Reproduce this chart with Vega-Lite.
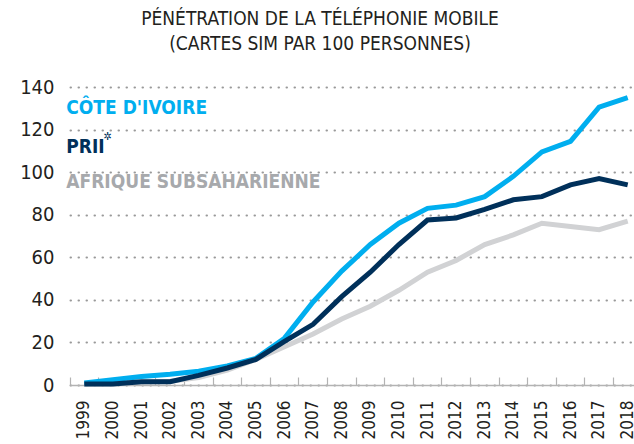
{
  "$schema": "https://vega.github.io/schema/vega-lite/v6.json",
  "width": 572,
  "height": 298,
  "autosize": {"type": "none"},
  "padding": {"left": 70, "top": 87, "right": 0, "bottom": 59},
  "background": "white",
  "title": {
    "text": ["PÉNÉTRATION DE LA TÉLÉPHONIE MOBILE", "(CARTES SIM PAR 100 PERSONNES)"],
    "font": "DejaVu Sans Condensed, Roboto, sans-serif",
    "fontSize": 19,
    "fontWeight": "normal",
    "color": "#231F20",
    "anchor": "middle",
    "frame": "group",
    "dx": -36,
    "offset": 23,
    "lineHeight": 25
  },
  "config": {
    "view": {"stroke": null},
    "font": "DejaVu Sans Condensed, Roboto, sans-serif"
  },
  "datasets": {
    "series": [
      {"year": "1999", "serie": "Afrique subsaharienne", "value": 0.3},
      {"year": "2000", "serie": "Afrique subsaharienne", "value": 0.5},
      {"year": "2001", "serie": "Afrique subsaharienne", "value": 1.3},
      {"year": "2002", "serie": "Afrique subsaharienne", "value": 1.8},
      {"year": "2003", "serie": "Afrique subsaharienne", "value": 3.5},
      {"year": "2004", "serie": "Afrique subsaharienne", "value": 7},
      {"year": "2005", "serie": "Afrique subsaharienne", "value": 12},
      {"year": "2006", "serie": "Afrique subsaharienne", "value": 18},
      {"year": "2007", "serie": "Afrique subsaharienne", "value": 24},
      {"year": "2008", "serie": "Afrique subsaharienne", "value": 31},
      {"year": "2009", "serie": "Afrique subsaharienne", "value": 37},
      {"year": "2010", "serie": "Afrique subsaharienne", "value": 44.5},
      {"year": "2011", "serie": "Afrique subsaharienne", "value": 53},
      {"year": "2012", "serie": "Afrique subsaharienne", "value": 58.5},
      {"year": "2013", "serie": "Afrique subsaharienne", "value": 66},
      {"year": "2014", "serie": "Afrique subsaharienne", "value": 70.5},
      {"year": "2015", "serie": "Afrique subsaharienne", "value": 76},
      {"year": "2016", "serie": "Afrique subsaharienne", "value": 74.5},
      {"year": "2017", "serie": "Afrique subsaharienne", "value": 73},
      {"year": "2018", "serie": "Afrique subsaharienne", "value": 77},
      {"year": "1999", "serie": "Côte d'Ivoire", "value": 1},
      {"year": "2000", "serie": "Côte d'Ivoire", "value": 2.5},
      {"year": "2001", "serie": "Côte d'Ivoire", "value": 4},
      {"year": "2002", "serie": "Côte d'Ivoire", "value": 5},
      {"year": "2003", "serie": "Côte d'Ivoire", "value": 6.5},
      {"year": "2004", "serie": "Côte d'Ivoire", "value": 9},
      {"year": "2005", "serie": "Côte d'Ivoire", "value": 12.5},
      {"year": "2006", "serie": "Côte d'Ivoire", "value": 22},
      {"year": "2007", "serie": "Côte d'Ivoire", "value": 39},
      {"year": "2008", "serie": "Côte d'Ivoire", "value": 53.5},
      {"year": "2009", "serie": "Côte d'Ivoire", "value": 66},
      {"year": "2010", "serie": "Côte d'Ivoire", "value": 76},
      {"year": "2011", "serie": "Côte d'Ivoire", "value": 83},
      {"year": "2012", "serie": "Côte d'Ivoire", "value": 84.5},
      {"year": "2013", "serie": "Côte d'Ivoire", "value": 88.5},
      {"year": "2014", "serie": "Côte d'Ivoire", "value": 98},
      {"year": "2015", "serie": "Côte d'Ivoire", "value": 109.5},
      {"year": "2016", "serie": "Côte d'Ivoire", "value": 114.5},
      {"year": "2017", "serie": "Côte d'Ivoire", "value": 130.5},
      {"year": "2018", "serie": "Côte d'Ivoire", "value": 135},
      {"year": "1999", "serie": "PRII", "value": 0.5},
      {"year": "2000", "serie": "PRII", "value": 0.5},
      {"year": "2001", "serie": "PRII", "value": 1.5},
      {"year": "2002", "serie": "PRII", "value": 1.5},
      {"year": "2003", "serie": "PRII", "value": 4.5},
      {"year": "2004", "serie": "PRII", "value": 8},
      {"year": "2005", "serie": "PRII", "value": 12},
      {"year": "2006", "serie": "PRII", "value": 20.5},
      {"year": "2007", "serie": "PRII", "value": 28.5},
      {"year": "2008", "serie": "PRII", "value": 41.5},
      {"year": "2009", "serie": "PRII", "value": 53},
      {"year": "2010", "serie": "PRII", "value": 66},
      {"year": "2011", "serie": "PRII", "value": 77.5},
      {"year": "2012", "serie": "PRII", "value": 78.5},
      {"year": "2013", "serie": "PRII", "value": 82.5},
      {"year": "2014", "serie": "PRII", "value": 87},
      {"year": "2015", "serie": "PRII", "value": 88.5},
      {"year": "2016", "serie": "PRII", "value": 94},
      {"year": "2017", "serie": "PRII", "value": 97},
      {"year": "2018", "serie": "PRII", "value": 94}
    ],
    "labels": [
      {"year": "1999", "serie": "Côte d'Ivoire", "label": "CÔTE D'IVOIRE", "value": 130},
      {"year": "1999", "serie": "PRII", "label": "PRII", "value": 112},
      {"year": "1999", "serie": "Afrique subsaharienne", "label": "AFRIQUE SUBSAHARIENNE", "value": 95.4}
    ],
    "star": [
      {"year": "1999", "label": "✲", "value": 116.6}
    ]
  },
  "encoding": {
    "x": {
      "field": "year",
      "type": "ordinal",
      "scale": {"type": "band", "paddingInner": 0, "paddingOuter": 0},
      "axis": {
        "title": null,
        "bandPosition": 0,
        "domainColor": "#b3b3b3",
        "domainWidth": 1.5,
        "tickColor": "#b3b3b3",
        "tickWidth": 1.2,
        "tickSize": -8,
        "labelAngle": -90,
        "labelFontSize": 17,
        "labelColor": "#231F20",
        "labelPadding": 23,
        "grid": false
      }
    },
    "y": {
      "field": "value",
      "type": "quantitative",
      "scale": {"domain": [0, 140], "nice": false},
      "axis": {
        "title": null,
        "values": [0, 20, 40, 60, 80, 100, 120, 140],
        "domain": false,
        "ticks": false,
        "labelFontSize": 20,
        "labelColor": "#231F20",
        "labelPadding": 16,
        "grid": true,
        "gridColor": "#9a9a9a",
        "gridDash": [0.5, 7.5],
        "gridWidth": 2,
        "gridCap": "round"
      }
    }
  },
  "layer": [
    {
      "data": {"name": "series"},
      "mark": {"type": "line", "strokeWidth": 5},
      "encoding": {
        "color": {
          "field": "serie",
          "type": "nominal",
          "legend": null,
          "sort": null,
          "scale": {
            "domain": ["Afrique subsaharienne", "Côte d'Ivoire", "PRII"],
            "range": ["#D1D2D4", "#00AEEF", "#00305A"]
          }
        }
      }
    },
    {
      "data": {"name": "labels"},
      "mark": {"type": "text", "align": "left", "baseline": "middle", "dx": -18, "fontWeight": "bold", "fontSize": 19},
      "encoding": {
        "text": {"field": "label"},
        "color": {
          "field": "serie",
          "type": "nominal",
          "legend": null,
          "scale": {
            "domain": ["Afrique subsaharienne", "Côte d'Ivoire", "PRII"],
            "range": ["#A7A9AC", "#00AEEF", "#00305A"]
          }
        }
      }
    },
    {
      "data": {"name": "star"},
      "mark": {"type": "text", "align": "left", "baseline": "middle", "dx": 19, "fontSize": 11, "color": "#00305A"},
      "encoding": {
        "text": {"field": "label"}
      }
    }
  ],
  "resolve": {"scale": {"color": "independent"}}
}
